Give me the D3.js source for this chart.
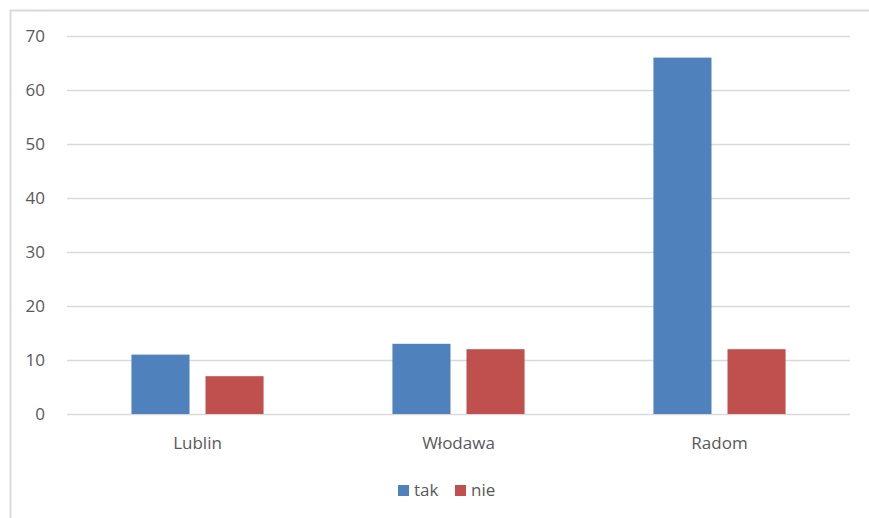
<!DOCTYPE html>
<html>
<head>
<meta charset="utf-8">
<script src="https://cdn.jsdelivr.net/npm/d3@7"></script>
<style>
  body { margin: 0; background: #fff; }
  text { font-family: "Open Sans", "Liberation Sans", sans-serif; fill: #595959; }
</style>
</head>
<body>
<div id="chart"></div>
<script>
var cities = ["Lublin", "Włodawa", "Radom"];
var series = ["tak", "nie"];
var tak_vals = [11, 13, 66];
var nie_vals = [7, 12, 12];
var colors = ["#4F81BD", "#C0504D"];
var y_ticks = [0, 10, 20, 30, 40, 50, 60, 70];

var width = 869, height = 518;
var margin = {top: 36, right: 19, bottom: 104, left: 67};

var svg = d3.select("#chart").append("svg")
  .attr("width", width)
  .attr("height", height);

// frame (only top and left edges show)
svg.append("path")
  .attr("d", "M10.5,520 V10.5 H870")
  .attr("fill", "none")
  .attr("stroke", "#d9d9d9")
  .attr("stroke-width", 2);

var x = d3.scaleBand()
  .domain(cities)
  .range([margin.left, width - margin.right]);

var x_inner = d3.scaleBand()
  .domain(series)
  .range([0, x.bandwidth()])
  .paddingInner(0.216)
  .paddingOuter(0.87);

var y = d3.scaleLinear()
  .domain([0, 70])
  .range([height - margin.bottom, margin.top]);

// gridlines
var yAxis = d3.axisLeft(y)
  .tickValues(y_ticks)
  .tickSize(-(width - margin.left - margin.right))
  .tickPadding(22);

var gy = svg.append("g")
  .attr("transform", "translate(" + margin.left + ",0)")
  .call(yAxis);
gy.select(".domain").remove();
gy.selectAll(".tick line").attr("stroke", "#d9d9d9").attr("stroke-width", 1.3);
gy.selectAll(".tick text").style("font-size", "17px").attr("fill", "#595959");

var data = cities.map(function(c, i) {
  return {city: c, values: [tak_vals[i], nie_vals[i]]};
});

var groups = svg.selectAll("g.city")
  .data(data)
  .enter().append("g")
  .attr("class", "city")
  .attr("transform", function(d) { return "translate(" + x(d.city) + ",0)"; });

groups.selectAll("rect")
  .data(function(d) { return d.values.map(function(v, i) { return {s: series[i], v: v, i: i}; }); })
  .enter().append("rect")
  .attr("x", function(d) { return x_inner(d.s); })
  .attr("width", x_inner.bandwidth())
  .attr("y", function(d) { return y(d.v); })
  .attr("height", function(d) { return y(0) - y(d.v); })
  .attr("fill", function(d) { return colors[d.i]; });

// category labels
svg.selectAll("text.cat")
  .data(cities)
  .enter().append("text")
  .attr("class", "cat")
  .attr("x", function(d) { return x(d) + x.bandwidth() / 2; })
  .attr("y", 449)
  .attr("text-anchor", "middle")
  .style("font-size", "17px")
  .text(function(d) { return d; });

// legend
var legend_x = [398, 455];
var leg = svg.selectAll("g.leg")
  .data(series)
  .enter().append("g")
  .attr("class", "leg")
  .attr("transform", function(d, i) { return "translate(" + legend_x[i] + ",485)"; });

leg.append("rect")
  .attr("width", 11)
  .attr("height", 11)
  .attr("fill", function(d, i) { return colors[i]; });

leg.append("text")
  .attr("x", 16)
  .attr("y", 11)
  .style("font-size", "17px")
  .text(function(d) { return d; });
</script>
</body>
</html>
